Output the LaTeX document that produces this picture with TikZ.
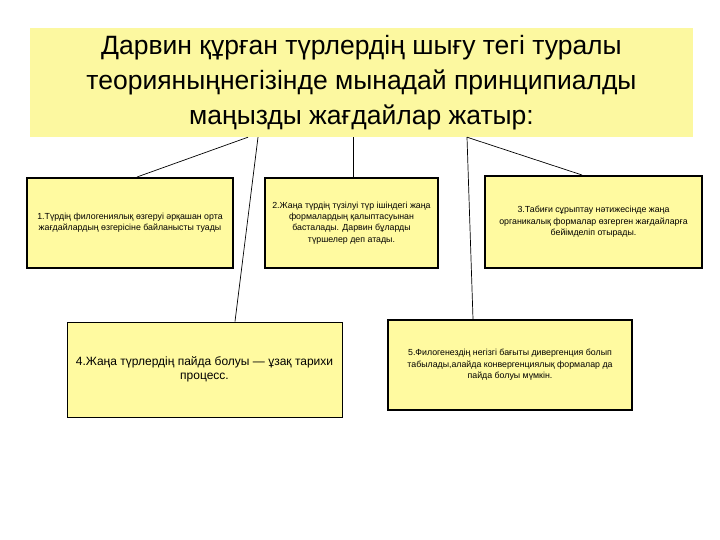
\documentclass[tikz,border=0pt]{standalone}
\usepackage{fontspec}
\setmainfont{Liberation Sans}
\usepackage{xcolor}
\usepackage{tikz}

\definecolor{titleyellow}{RGB}{252,248,160}
\definecolor{boxyellow}{RGB}{255,250,160}

\tikzset{
    titlebox/.style={fill=titleyellow, inner sep=0pt, align=center,
        minimum width=663pt, minimum height=109pt,
        font=\fontsize{26.5}{35}\selectfont},
    notebox/.style={draw=black, line width=2pt, fill=boxyellow, inner sep=0pt,
        align=center, font=\fontsize{8.8}{11.4}\selectfont},
    link/.style={draw=black, line width=0.7pt}
}

\begin{document}
\begin{tikzpicture}[x=1pt,y=-1pt]
        \path[fill=white] (0,0) rectangle (720,540);
        % Title
        \node[titlebox] (title) at (361.5,82.5)
            {Дарвин құрған түрлердің шығу тегі туралы\\
             теорияныңнегізінде мынадай принципиалды\\
             маңызды жағдайлар жатыр:};
        % Top row
        \node[notebox, minimum width=206pt, minimum height=90pt] (first) at (130,223)
            {1.Түрдің филогениялық өзгеруі әрқашан орта\\
             жағдайлардың өзгерісіне байланысты туады};
        \node[notebox, minimum width=173pt, minimum height=90pt] (second) at (351.5,223)
            {2.Жаңа түрдің түзілуі түр ішіндегі жаңа\\
             формалардың қалыптасуынан\\
             басталады. Дарвин бұларды\\
             түршелер деп атады.};
        \node[notebox, minimum width=217pt, minimum height=92pt] (third) at (593.5,222)
            {3.Табиғи сұрыптау нәтижесінде жаңа\\
             органикалық формалар өзгерген жағдайларға\\
             бейімделіп отырады.};
        % Bottom row
        \node[notebox, line width=1pt, minimum width=275pt, minimum height=95pt,
            font=\fontsize{12}{14.5}\selectfont] (fourth) at (204.5,369.5)
            {4.Жаңа түрлердің пайда болуы — ұзақ тарихи\\
             процесс.};
        \node[notebox, minimum width=244pt, minimum height=90pt] (fifth) at (510,365)
            {5.Филогенездің негізгі бағыты дивергенция болып\\
             табылады,алайда конвергенциялық формалар да\\
             пайда болуы мүмкін.};
        % Links
        \draw[link] ([xshift=-113.5pt]title.south) -- ([xshift=7pt]first.north);
        \draw[link] ([xshift=-103.5pt]title.south) -- ([xshift=30.5pt]fourth.north);
        \draw[link] ([xshift=-8.5pt]title.south) -- ([xshift=1.5pt]second.north);
        \draw[link] ([xshift=105.5pt]title.south) -- ([xshift=-11.5pt]third.north);
        \draw[link] ([xshift=105.5pt]title.south) -- ([xshift=-37pt]fifth.north);
\end{tikzpicture}
\end{document}
